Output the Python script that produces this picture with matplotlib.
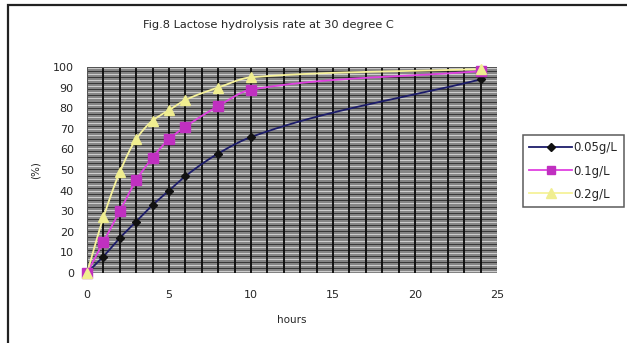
import numpy as np
import matplotlib.pyplot as plt
from matplotlib.lines import Line2D
from matplotlib.patches import Rectangle

# Hydrolysis measurements (hours vs %)
hours = [0, 1, 2, 3, 4, 5, 6, 8, 10, 24]
rate_005 = [0, 8, 17, 25, 33, 40, 47, 58, 66, 94]
rate_01 = [0, 15, 30, 45, 56, 65, 71, 81, 89, 98]
rate_02 = [0, 27, 49, 65, 74, 79, 84, 90, 95, 99]
series_labels = ["0.05g/L", "0.1g/L", "0.2g/L"]

x_ticks = [0, 5, 10, 15, 20, 25]
y_ticks = list(range(0, 101, 10))


def smooth_curve(xs, ys, n=40):
    """Monotone cubic (Fritsch-Carlson) curve through the points, for a smoothed line."""
    xs = np.asarray(xs, float)
    ys = np.asarray(ys, float)
    h = np.diff(xs)
    d = np.diff(ys) / h
    m = np.zeros_like(ys)
    m[0], m[-1] = d[0], d[-1]
    for i in range(1, len(xs) - 1):
        if d[i - 1] * d[i] <= 0:
            m[i] = 0
        else:
            w1 = 2 * h[i] + h[i - 1]
            w2 = h[i] + 2 * h[i - 1]
            m[i] = (w1 + w2) / (w1 / d[i - 1] + w2 / d[i])
    out_x, out_y = [], []
    for i in range(len(xs) - 1):
        t = np.linspace(0, 1, n)
        h00 = 2 * t ** 3 - 3 * t ** 2 + 1
        h10 = t ** 3 - 2 * t ** 2 + t
        h01 = -2 * t ** 3 + 3 * t ** 2
        h11 = t ** 3 - t ** 2
        out_x.extend(xs[i] + t * h[i])
        out_y.extend(h00 * ys[i] + h10 * h[i] * m[i] + h01 * ys[i + 1] + h11 * h[i] * m[i + 1])
    return np.array(out_x), np.array(out_y)


plt.rcParams["font.family"] = ["DejaVu Sans"]
txt_color = "#262626"

fig = plt.figure(figsize=(6.27, 3.43), dpi=100)
fig.patch.set_facecolor("white")

# outer chart frame
fig.add_artist(Rectangle((8 / 627, -0.05), 1.1, 1 - 5 / 343 + 0.05,
                         transform=fig.transFigure, fill=False,
                         edgecolor="#222222", linewidth=1.6))

ax = fig.add_axes([87 / 627, 1 - 273 / 343, 410 / 627, 206 / 343])
ax.set_facecolor("#858585")
ax.set_xlim(0, 25)
ax.set_ylim(0, 100)

# patterned plot-area fill: dense horizontal stripes
for k, yy in enumerate(np.arange(0.75, 100, 1.5)):
    ax.axhline(yy, color="#dcdcdc" if k % 2 == 0 else "#2a2a2a",
               lw=0.6, zorder=0.5)
# vertical grid every hour
for xx in range(1, 25):
    ax.axvline(xx, color="#0a0a0a", lw=1.3, zorder=0.6)
ax.add_patch(Rectangle((0, 0), 25, 100, fill=False, edgecolor="#555555",
                       lw=0.8, zorder=0.7))

styles = [
    dict(data=rate_005, line="#1c1c6a", mk="D", mfc="#111111", mec="#111111", ms=4.5),
    dict(data=rate_01, line="#e040e0", mk="s", mfc="#c030c0", mec="#c030c0", ms=6.5),
    dict(data=rate_02, line="#f6f29a", mk="^", mfc="#f0ee90", mec="#f0ee90", ms=7),
]

handles = []
for st, lab in zip(styles, series_labels):
    sx, sy = smooth_curve(hours, st["data"])
    ax.plot(sx, sy, color=st["line"], lw=1.3, zorder=2)
    ax.plot(hours, st["data"], linestyle="none", marker=st["mk"],
            markerfacecolor=st["mfc"], markeredgecolor=st["mec"],
            markersize=st["ms"], zorder=3, clip_on=False)
    handles.append(Line2D([], [], color=st["line"], lw=1.3, marker=st["mk"],
                          markerfacecolor=st["mfc"], markeredgecolor=st["mec"],
                          markersize=st["ms"] - 0.5))

ax.set_xticks(x_ticks)
ax.set_yticks(y_ticks)
ax.tick_params(axis="y", length=0, labelsize=8, colors=txt_color, pad=9.5)
ax.tick_params(axis="x", length=0, labelsize=8, colors=txt_color, pad=12)
for sp in ax.spines.values():
    sp.set_visible(False)

ax.set_xlabel("hours", fontsize=7.5, color=txt_color, labelpad=11)
ax.set_ylabel("(%)", fontsize=7.5, color=txt_color, labelpad=9)

fig.text(268 / 627, 1 - 25 / 343, "Fig.8 Lactose hydrolysis rate at 30 degree C",
         ha="center", va="center", fontsize=8.2, color=txt_color)

leg = fig.legend(handles=handles, labels=series_labels,
                 loc="upper left", bbox_to_anchor=(523 / 627, 1 - 135 / 343),
                 fontsize=8.5, frameon=True, fancybox=False, edgecolor="#333333",
                 handlelength=3.6, handletextpad=0.1, borderpad=0.55,
                 labelspacing=0.85, borderaxespad=0)
leg.get_frame().set_linewidth(1.1)
for t in leg.get_texts():
    t.set_color(txt_color)

fig.savefig("out.png", dpi=100)
